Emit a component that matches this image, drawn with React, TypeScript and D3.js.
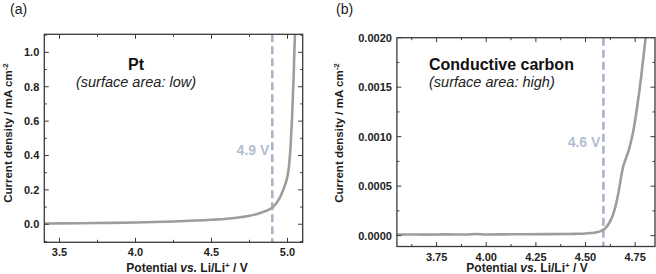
import React from "react";
import * as d3 from "d3";

// ---- data ----
const ptPotential = [3.4, 3.5, 3.75, 4.0, 4.25, 4.5, 4.6, 4.7, 4.75, 4.8, 4.85, 4.88, 4.9, 4.92, 4.94, 4.96, 4.98, 5.0, 5.01, 5.02, 5.03, 5.04, 5.045, 5.05];
const ptCurrent = [0.004, 0.005, 0.007, 0.01, 0.016, 0.026, 0.032, 0.042, 0.049, 0.06, 0.075, 0.086, 0.098, 0.115, 0.14, 0.175, 0.22, 0.28, 0.34, 0.45, 0.62, 0.85, 1.0, 1.12];

const carbonPotential = [3.55, 3.6, 3.7, 3.8, 3.9, 3.95, 4.0, 4.1, 4.2, 4.3, 4.4, 4.45, 4.5, 4.55, 4.58, 4.6, 4.62, 4.64, 4.655, 4.67, 4.68, 4.69, 4.7, 4.72, 4.74, 4.76, 4.78, 4.8, 4.81];
const carbonCurrent = [0.00001, 0.000012, 0.00001, 0.000013, 0.000011, 0.000016, 0.000012, 0.000013, 0.000014, 0.000015, 0.000016, 0.000018, 0.000022, 0.000032, 0.000048, 0.000075, 0.00013, 0.00022, 0.00033, 0.00048, 0.0006, 0.0007, 0.00076, 0.00088, 0.00105, 0.0013, 0.0016, 0.00195, 0.00212];

const leftXTicks = [3.5, 4.0, 4.5, 5.0];
const leftXTickLabels = ["3.5", "4.0", "4.5", "5.0"];
const leftXMinor = [3.75, 4.25, 4.75];
const leftYTicks = [0, 0.2, 0.4, 0.6, 0.8, 1.0];
const leftYTickLabels = ["0.0", "0.2", "0.4", "0.6", "0.8", "1.0"];
const leftYMinor = [-0.1, 0.1, 0.3, 0.5, 0.7, 0.9, 1.1];

const rightXTicks = [3.75, 4.0, 4.25, 4.5, 4.75];
const rightXTickLabels = ["3.75", "4.00", "4.25", "4.50", "4.75"];
const rightXMinor = [3.625, 3.875, 4.125, 4.375, 4.625];
const rightYTicks = [0, 0.0005, 0.001, 0.0015, 0.002];
const rightYTickLabels = ["0.0000", "0.0005", "0.0010", "0.0015", "0.0020"];
const rightYMinor = [0.00025, 0.00075, 0.00125, 0.00175];

const onsetLeft = 4.9;
const onsetRight = 4.59;

const FONT = "'Liberation Sans', Arial, Helvetica, sans-serif";
const FRAME = "#3a3a3a";
const CURVE = "#9d9d9d";
const DASH = "#a9b3cb";
const DASH_TEXT = "#b3bcd1";

type PanelProps = {
  id: string;
  x0: number; x1: number; y0: number; y1: number;
  xDomain: [number, number]; yDomain: [number, number];
  xs: number[]; ys: number[];
  xTicks: number[]; xTickLabels: string[]; xMinor: number[];
  yTicks: number[]; yTickLabels: string[]; yMinor: number[];
  onset: number; onsetLabel: string; onsetLabelY: number;
  letter: string; letterX: number;
  ylabelX: number; ylabelY: number;
  xlabelX: number;
  title: string; subtitle: string; titleX: number; titleAnchor: string;
};

function Panel(p: PanelProps) {
  const x = d3.scaleLinear().domain(p.xDomain).range([p.x0, p.x1]);
  const y = d3.scaleLinear().domain(p.yDomain).range([p.y1, p.y0]);
  const line = d3
    .line<number>()
    .x((_, i) => x(p.xs[i]))
    .y((d) => y(d))
    .curve(d3.curveMonotoneX);
  const path = line(p.ys) || "";
  const maj = 4.5;
  const min = 2.5;
  const clipId = "clip-" + p.id;
  return (
    <g>
      <defs>
        <clipPath id={clipId}>
          <rect x={p.x0} y={p.y0} width={p.x1 - p.x0} height={p.y1 - p.y0} />
        </clipPath>
      </defs>
      <text x={p.letterX} y={14} fontFamily={FONT} fontSize={14} fill="#222">{p.letter}</text>
      {/* dashed onset line */}
      <line x1={x(p.onset)} x2={x(p.onset)} y1={p.y0} y2={p.y1} stroke={DASH} strokeWidth={2.6} strokeDasharray="8 4" />
      <text x={x(p.onset) - 3} y={p.onsetLabelY} textAnchor="end" dominantBaseline="central" fontFamily={FONT} fontSize={14} fontWeight="bold" fill={DASH_TEXT}>{p.onsetLabel}</text>
      {/* curve */}
      <path d={path} fill="none" stroke={CURVE} strokeWidth={2.6} clipPath={`url(#${clipId})`} />
      {/* frame */}
      <rect x={p.x0} y={p.y0} width={p.x1 - p.x0} height={p.y1 - p.y0} fill="none" stroke={FRAME} strokeWidth={1.3} />
      {/* x ticks */}
      {p.xTicks.map((t, i) => (
        <g key={"xt" + i}>
          <line x1={x(t)} x2={x(t)} y1={p.y1} y2={p.y1 - maj} stroke={FRAME} strokeWidth={1} />
          <line x1={x(t)} x2={x(t)} y1={p.y0} y2={p.y0 + maj} stroke={FRAME} strokeWidth={1} />
          <text x={x(t)} y={p.y1 + 14} textAnchor="middle" fontFamily={FONT} fontSize={11} fontWeight="bold" fill="#222">{p.xTickLabels[i]}</text>
        </g>
      ))}
      {p.xMinor.map((t, i) => (
        <g key={"xm" + i}>
          <line x1={x(t)} x2={x(t)} y1={p.y1} y2={p.y1 - min} stroke={FRAME} strokeWidth={1} />
          <line x1={x(t)} x2={x(t)} y1={p.y0} y2={p.y0 + min} stroke={FRAME} strokeWidth={1} />
        </g>
      ))}
      {/* y ticks */}
      {p.yTicks.map((t, i) => (
        <g key={"yt" + i}>
          <line x1={p.x0} x2={p.x0 + maj} y1={y(t)} y2={y(t)} stroke={FRAME} strokeWidth={1} />
          <line x1={p.x1} x2={p.x1 - maj} y1={y(t)} y2={y(t)} stroke={FRAME} strokeWidth={1} />
          <text x={p.x0 - 5} y={y(t)} textAnchor="end" dominantBaseline="central" fontFamily={FONT} fontSize={11} fontWeight="bold" fill="#222">{p.yTickLabels[i]}</text>
        </g>
      ))}
      {p.yMinor.filter((t) => t >= p.yDomain[0] && t <= p.yDomain[1]).map((t, i) => (
        <g key={"ym" + i}>
          <line x1={p.x0} x2={p.x0 + min} y1={y(t)} y2={y(t)} stroke={FRAME} strokeWidth={1} />
          <line x1={p.x1} x2={p.x1 - min} y1={y(t)} y2={y(t)} stroke={FRAME} strokeWidth={1} />
        </g>
      ))}
      {/* axis labels */}
      <text x={p.xlabelX} y={272} textAnchor="middle" fontFamily={FONT} fontSize={12} fontWeight="bold" fill="#222">
        Potential <tspan fontStyle="italic">vs.</tspan> Li/Li<tspan fontSize={8} dy={-4}>+</tspan><tspan dy={4}> / V</tspan>
      </text>
      <text transform={`translate(${p.ylabelX},${p.ylabelY}) rotate(-90)`} textAnchor="middle" fontFamily={FONT} fontSize={11.5} fontWeight="bold" fill="#222">
        Current density / mA cm<tspan fontSize={8} dy={-4}>-2</tspan>
      </text>
      {/* annotation */}
      <text x={p.titleX} y={70} textAnchor={p.titleAnchor} fontFamily={FONT} fontSize={16} fontWeight="bold" fill="#111">{p.title}</text>
      <text x={p.titleX} y={87} textAnchor={p.titleAnchor} fontFamily={FONT} fontSize={14.5} fontStyle="italic" fill="#222">{p.subtitle}</text>
    </g>
  );
}

export default function App() {
  return (
    <svg width={656} height={274} style={{ position: "absolute", left: 0, top: 0, background: "#fff" }}>
      <rect x={0} y={0} width={656} height={274} fill="#fff" />
      <Panel
        id="a"
        x0={44.3} x1={302.7} y0={34.3} y1={242.3}
        xDomain={[3.4, 5.1]} yDomain={[-0.105, 1.105]}
        xs={ptPotential} ys={ptCurrent}
        xTicks={leftXTicks} xTickLabels={leftXTickLabels} xMinor={leftXMinor}
        yTicks={leftYTicks} yTickLabels={leftYTickLabels} yMinor={leftYMinor}
        onset={onsetLeft} onsetLabel="4.9 V" onsetLabelY={150}
        letter="(a)" letterX={10}
        ylabelX={12} ylabelY={133}
        xlabelX={187}
        title="Pt" subtitle="(surface area: low)" titleX={136} titleAnchor="middle"
      />
      <Panel
        id="b"
        x0={396.9} x1={655} y0={37.7} y1={246.5}
        xDomain={[3.55, 4.85]} yDomain={[-0.00011, 0.002]}
        xs={carbonPotential} ys={carbonCurrent}
        xTicks={rightXTicks} xTickLabels={rightXTickLabels} xMinor={rightXMinor}
        yTicks={rightYTicks} yTickLabels={rightYTickLabels} yMinor={rightYMinor}
        onset={onsetRight} onsetLabel="4.6 V" onsetLabelY={142}
        letter="(b)" letterX={336}
        ylabelX={343} ylabelY={133}
        xlabelX={527}
        title="Conductive carbon" subtitle="(surface area: high)" titleX={429} titleAnchor="start"
      />
    </svg>
  );
}
